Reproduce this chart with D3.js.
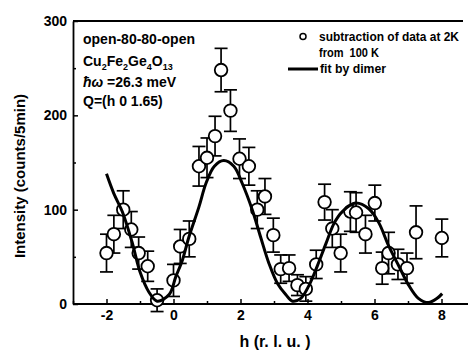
<!DOCTYPE html>
<html>
<head>
<meta charset="utf-8">
<script src="https://cdn.jsdelivr.net/npm/d3@7"></script>
<style>
  html, body { margin: 0; padding: 0; background: #fff; }
  svg { display: block; }
  text { font-family: "Liberation Sans", Arial, Helvetica, sans-serif; fill: #000; }
</style>
</head>
<body>
<svg id="chart" width="468" height="352"></svg>
<script>
// Measured points: h (r.l.u.), intensity (counts/5min) and its error
const pointH   = [-2.0, -1.78, -1.5, -1.26, -1.04, -0.77, -0.49, 0.0, 0.2, 0.47,
                  0.76, 1.0, 1.24, 1.42, 1.70, 1.97, 2.25, 2.5, 2.73, 2.98,
                  3.2, 3.45, 3.7, 3.95, 4.26, 4.51, 4.74, 4.99, 5.28, 5.45,
                  5.73, 6.01, 6.23, 6.42, 6.7, 6.97, 7.24, 8.01];
const pointI   = [54, 74, 100, 79, 54, 40, 4, 25, 61, 69,
                  146, 155, 178, 248, 205, 154, 146, 100, 114, 73,
                  37, 38, 20, 16, 42, 108, 80, 54, 98, 97,
                  74, 107, 38, 54, 42, 38, 76, 70];
const pointErr = [20, 20, 20, 19, 17, 16, 12, 17, 18, 19,
                  21, 21, 21, 23, 22, 21, 20, 20, 19, 18,
                  15, 14, 11, 13, 15, 19, 20, 20, 21, 21,
                  20, 19, 17, 22, 16, 16, 28, 20];

// Dimer fit curve
const fitH = [-2.0, -1.78, -1.53, -1.24, -0.99, -0.74, -0.49, -0.13, 0.07, 0.27,
              0.46, 0.76, 0.97, 1.22, 1.5, 1.8, 2.05, 2.35, 2.6, 2.85,
              3.1, 3.35, 3.55, 3.8, 4.05, 4.3, 4.55, 4.8, 5.04, 5.43,
              5.83, 6.13, 6.43, 6.73, 7.02, 7.31, 7.61, 7.87, 8.02];
const fitI = [138, 117, 98, 66, 33, 13, 3, 10, 29, 47,
              71, 103, 128, 146, 152, 146, 128, 100, 71, 43,
              22, 10, 3, 6, 20, 41, 64, 86, 98, 107,
              101, 86, 61, 40, 20, 6, 1.5, 6, 11];

const xTicks = [-2, 0, 2, 4, 6, 8];
const xMinorTicks = [-3, -1, 1, 3, 5, 7];
const yTicks = [0, 100, 200, 300];
const yMinorTicks = [50, 150, 250];

const svg = d3.select("#chart");
const x = d3.scaleLinear().domain([-3, 9]).range([73, 475]);
const y = d3.scaleLinear().domain([0, 300]).range([304, 21]);

const ink = "#000";
const font = "'Liberation Sans', Arial, sans-serif";

// frame: top border
svg.append("line")
  .attr("x1", x(-3)).attr("x2", 463)
  .attr("y1", y(300)).attr("y2", y(300))
  .attr("stroke", ink).attr("stroke-width", 2);

// x axis (ticks point into the plot)
const xAxis = d3.axisBottom(x).tickValues(xTicks).tickSizeInner(-5).tickSizeOuter(0)
  .tickPadding(6).tickFormat(d3.format("d"));
const gx = svg.append("g").attr("transform", `translate(0,${y(0)})`).call(xAxis);
gx.select(".domain").attr("stroke", ink).attr("stroke-width", 2.2)
  .attr("d", `M${x(-3)},0H468`);
gx.selectAll(".tick line").attr("stroke", ink).attr("stroke-width", 1.5);
gx.selectAll(".tick text")
  .attr("font-size", 14).attr("font-weight", "bold")
  .attr("font-family", font).attr("fill", ink)
  .text(d => d < 0 ? "-" + Math.abs(d) : d);
const gxm = svg.append("g").attr("transform", `translate(0,${y(0)})`)
  .call(d3.axisBottom(x).tickValues(xMinorTicks).tickSizeInner(-3).tickSizeOuter(0).tickFormat(""));
gxm.select(".domain").remove();
gxm.selectAll(".tick line").attr("stroke", ink).attr("stroke-width", 1.5);

// y axis
const yAxis = d3.axisLeft(y).tickValues(yTicks).tickSizeInner(-5).tickSizeOuter(0).tickPadding(6);
const gy = svg.append("g").attr("transform", `translate(${x(-3)},0)`).call(yAxis);
gy.select(".domain").attr("stroke", ink).attr("stroke-width", 1.8);
gy.selectAll(".tick line").attr("stroke", ink).attr("stroke-width", 1.5);
gy.selectAll(".tick text")
  .attr("font-size", 14).attr("font-weight", "bold")
  .attr("font-family", font).attr("fill", ink);
const gym = svg.append("g").attr("transform", `translate(${x(-3)},0)`)
  .call(d3.axisLeft(y).tickValues(yMinorTicks).tickSizeInner(-3).tickSizeOuter(0).tickFormat(""));
gym.select(".domain").remove();
gym.selectAll(".tick line").attr("stroke", ink).attr("stroke-width", 1.5);

// axis titles
svg.append("text")
  .attr("x", 275).attr("y", 347)
  .attr("text-anchor", "middle").attr("font-size", 16).attr("font-weight", "bold")
  .text("h (r. l. u. )");
svg.append("text")
  .attr("transform", "translate(25,176) rotate(-90)")
  .attr("text-anchor", "middle").attr("font-size", 15).attr("font-weight", "bold")
  .text("Intensity (counts/5min)");

// data with error bars
const pts = pointH.map((h, i) => ({ h, v: pointI[i], e: pointErr[i] }));
const cap = 6.5;
const gp = svg.append("g").attr("stroke", ink).attr("stroke-width", 1.7);
const eb = gp.selectAll("g.eb").data(pts).join("g").attr("class", "eb");
eb.append("line")
  .attr("x1", d => x(d.h)).attr("x2", d => x(d.h))
  .attr("y1", d => y(d.v + d.e)).attr("y2", d => y(d.v - d.e));
eb.append("line")
  .attr("x1", d => x(d.h) - cap).attr("x2", d => x(d.h) + cap)
  .attr("y1", d => y(d.v + d.e)).attr("y2", d => y(d.v + d.e));
eb.append("line")
  .attr("x1", d => x(d.h) - cap).attr("x2", d => x(d.h) + cap)
  .attr("y1", d => y(d.v - d.e)).attr("y2", d => y(d.v - d.e));
gp.selectAll("circle").data(pts).join("circle")
  .attr("cx", d => x(d.h)).attr("cy", d => y(d.v)).attr("r", 6.3)
  .attr("fill", "#fff").attr("stroke-width", 1.8);

// fit curve, drawn over the markers
const line = d3.line().x(d => x(d[0])).y(d => y(d[1])).curve(d3.curveCatmullRom.alpha(0.5));
svg.append("path")
  .datum(fitH.map((h, i) => [h, fitI[i]]))
  .attr("d", line)
  .attr("fill", "none").attr("stroke", ink).attr("stroke-width", 3);

// sample description
const info = svg.append("g").attr("font-size", 14).attr("font-weight", "bold");
info.append("text").attr("x", 83).attr("y", 44).text("open-80-80-open");
const formula = info.append("text").attr("x", 83).attr("y", 66);
[["Cu", false], ["2", true], ["Fe", false], ["2", true], ["Ge", false], ["4", true], ["O", false], ["13", true]]
  .forEach(([t, sub]) => {
    const ts = formula.append("tspan").text(t);
    if (sub) ts.attr("font-size", 9).attr("dy", 4);
    else ts.attr("dy", formula.selectAll("tspan").size() > 1 ? -4 : 0);
  });
const hw = info.append("text").attr("x", 83).attr("y", 87);
hw.append("tspan").attr("font-style", "italic").text("ħω");
hw.append("tspan").text(" =26.3 meV");
info.append("text").attr("x", 83).attr("y", 106).text("Q=(h 0 1.65)");

// legend
const lg = svg.append("g").attr("font-size", 12).attr("font-weight", "bold");
lg.append("circle").attr("cx", 303).attr("cy", 36.5).attr("r", 3)
  .attr("fill", "#fff").attr("stroke", ink).attr("stroke-width", 1.5);
lg.append("text").attr("x", 319).attr("y", 41)
  .attr("textLength", 140).attr("lengthAdjust", "spacingAndGlyphs")
  .text("subtraction of data at 2K");
lg.append("text").attr("x", 319).attr("y", 57)
  .attr("textLength", 60).attr("lengthAdjust", "spacingAndGlyphs")
  .text("from\u00a0\u00a0100 K");
lg.append("line").attr("x1", 288).attr("x2", 318).attr("y1", 69).attr("y2", 69)
  .attr("stroke", ink).attr("stroke-width", 3);
lg.append("text").attr("x", 320).attr("y", 73)
  .attr("textLength", 66).attr("lengthAdjust", "spacingAndGlyphs")
  .text("fit by dimer");
</script>
</body>
</html>
